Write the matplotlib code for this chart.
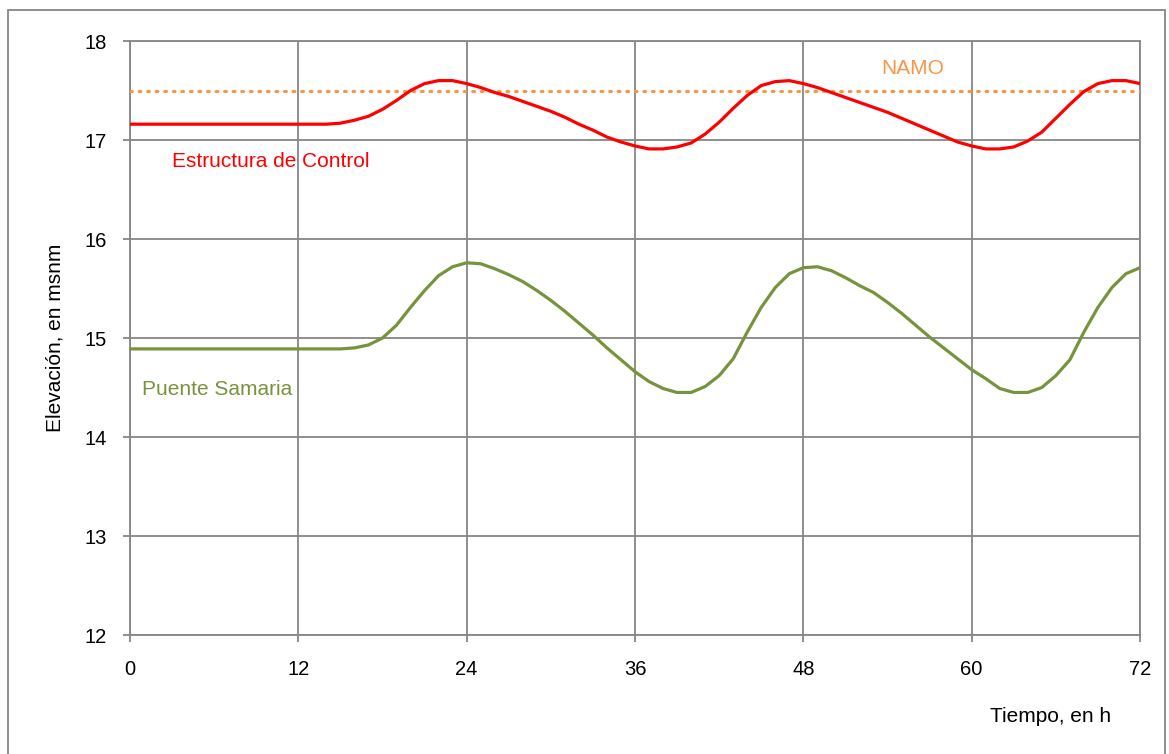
import matplotlib
matplotlib.use("Agg")
import matplotlib.pyplot as plt
from matplotlib.patches import Rectangle

plt.rcParams['font.family'] = ['Liberation Sans', 'DejaVu Sans']

# hourly series
hours = list(range(0, 73))

control = [17.16] * 15 + [
    17.17, 17.20, 17.24, 17.31, 17.40, 17.50, 17.57, 17.60, 17.60,  # 15-23
    17.57, 17.53, 17.48, 17.44, 17.39, 17.34, 17.29, 17.23, 17.16,  # 24-32
    17.10, 17.03, 16.98, 16.94, 16.91, 16.91, 16.93, 16.97, 17.06,  # 33-41
    17.18, 17.32, 17.45, 17.55, 17.59, 17.60, 17.57, 17.53, 17.48,  # 42-50
    17.43, 17.38, 17.33, 17.28, 17.22, 17.16, 17.10, 17.04, 16.98,  # 51-59
    16.94, 16.91, 16.91, 16.93, 16.99, 17.08, 17.22, 17.36, 17.49,  # 60-68
    17.57, 17.60, 17.60, 17.57,                                      # 69-72
]

samaria = [14.89] * 16 + [
    14.90, 14.93, 15.00, 15.13, 15.31, 15.48, 15.63, 15.72,  # 16-23
    15.76, 15.75, 15.70, 15.64, 15.57, 15.48, 15.38, 15.27,  # 24-31
    15.15, 15.03, 14.90, 14.78, 14.66, 14.56, 14.49, 14.45,  # 32-39
    14.45, 14.51, 14.62, 14.79, 15.06, 15.31, 15.51, 15.65,  # 40-47
    15.71, 15.72, 15.68, 15.61, 15.53, 15.46, 15.36, 15.25,  # 48-55
    15.13, 15.01, 14.90, 14.79, 14.68, 14.59, 14.49, 14.45,  # 56-63
    14.45, 14.50, 14.62, 14.78, 15.06, 15.31, 15.51, 15.65,  # 64-71
    15.71,                                                   # 72
]

namo = 17.5
x_ticks = [0, 12, 24, 36, 48, 60, 72]
y_ticks = [12, 13, 14, 15, 16, 17, 18]

RED = '#FF0000'
GREEN = '#77933C'
ORANGE = '#F79646'
GRID = '#868686'

fig = plt.figure(figsize=(11.69, 7.54), dpi=100)
ax = fig.add_axes([0.1112, 0.1578, 0.864, 0.7878])

ax.plot(hours, control, color=RED, lw=2.3, solid_joinstyle='round', zorder=4)
ax.plot(hours, samaria, color=GREEN, lw=2.3, solid_joinstyle='round', zorder=4)
ax.axhline(namo, color=ORANGE, lw=2.2, ls=(0, (0.6, 2.2)), dash_capstyle='round', zorder=3)

ax.set_xlim(0, 72)
ax.set_ylim(12, 18)
ax.set_xticks(x_ticks)
ax.set_yticks(y_ticks)
ax.grid(True, color=GRID, lw=1.3)
ax.set_axisbelow(True)
for s in ax.spines.values():
    s.set_color(GRID)
    s.set_linewidth(1.3)
ax.tick_params(colors=GRID, labelcolor='black', labelsize=14.5, length=5, width=1.3)
ax.tick_params(axis='x', pad=13)
ax.tick_params(axis='y', pad=12)

ax.text(3.0, 16.78, 'Estructura de Control', color=RED, fontsize=15, va='center', ha='left')
ax.text(0.85, 14.48, 'Puente Samaria', color=GREEN, fontsize=15, va='center', ha='left')
ax.text(55.8, 17.72, 'NAMO', color=ORANGE, fontsize=15, va='center', ha='center')

fig.text(55 / 1169, 1 - 338 / 754, 'Elevación, en msnm', rotation=90, fontsize=15,
         ha='center', va='center')
fig.text(1051 / 1169, 1 - 716 / 754, 'Tiempo, en h', fontsize=15, ha='center', va='center')

# outer chart frame
fig.patches.append(Rectangle((8 / 1169, -0.01), (1165 - 8) / 1169, 1.01 - 10 / 754,
                             transform=fig.transFigure, fill=False,
                             edgecolor=GRID, lw=1.3))

fig.savefig('out.png', dpi=100)
